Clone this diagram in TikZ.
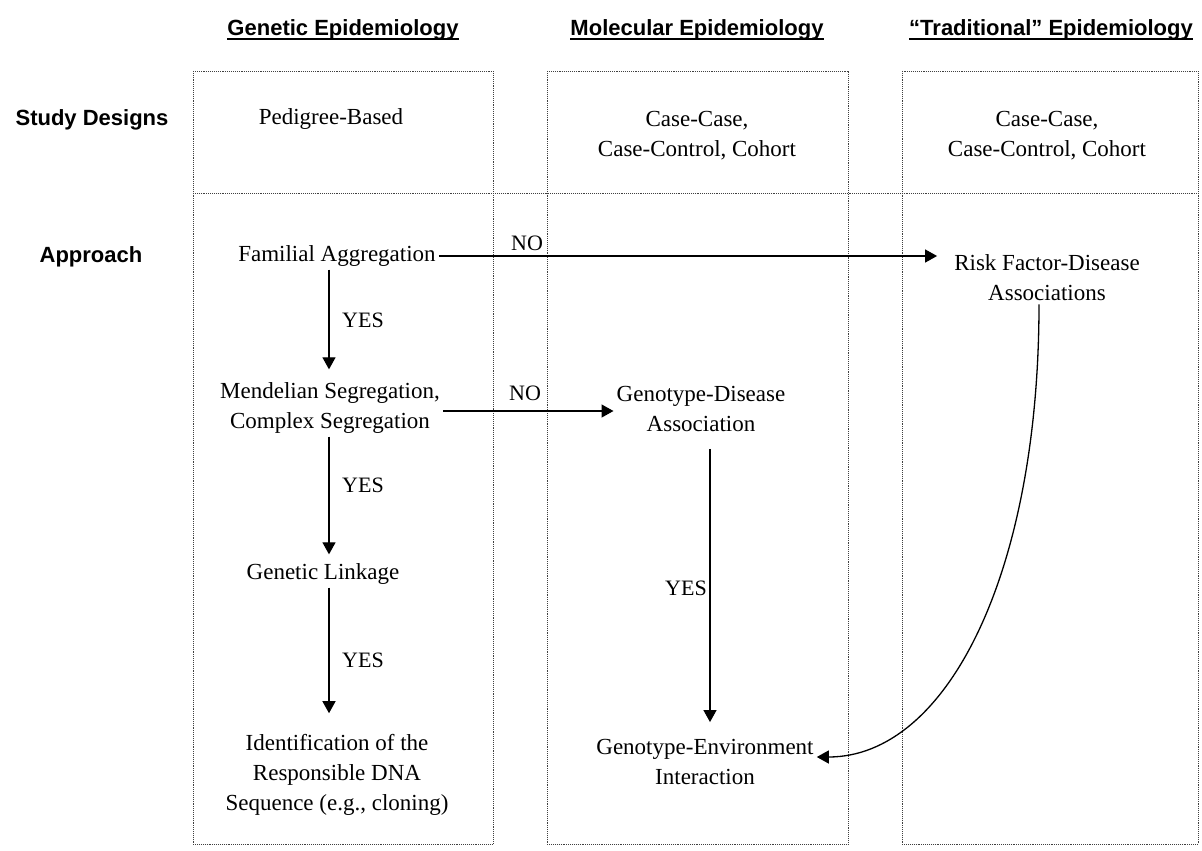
\documentclass[tikz,border=0pt]{standalone}
\usepackage{fontspec}
\setmainfont{Liberation Serif}
\setsansfont{Liberation Sans}
\usetikzlibrary{arrows.meta}

\begin{document}
\begin{tikzpicture}[x=1pt,y=-1pt]
		\tikzset{vertex/.style = {font=\fontsize{23}{30}\selectfont, align=center, inner sep=3pt}}
		\tikzset{head/.style = {font=\sffamily\bfseries\fontsize{22}{26}\selectfont, inner sep=0pt, text depth=0pt}}
		\tikzset{frame/.style = {densely dotted, line width=0.9pt, black!75}}
		\tikzset{edge/.style = {-{Triangle[length=12pt,width=13pt]}, line width=1.3pt}}
		\tikzset{tag/.style = {font=\fontsize{22}{26}\selectfont, inner sep=0pt}}

		\useasboundingbox (0,0) rectangle (1202,851);

		% frames
		\draw[frame] (193,71) rectangle (493,844);
		\draw[frame] (547,71) rectangle (848,844);
		\draw[frame] (902,71) rectangle (1198,844);
		\draw[frame] (193,193) -- (1198,193);

		% headings
		\node[head, anchor=base] (h1) at ( 343,  36) {Genetic Epidemiology};
		\node[head, anchor=base] (h2) at ( 697,  36) {Molecular Epidemiology};
		\node[head, anchor=base] (h3) at (1051,  36) {``Traditional'' Epidemiology};
		\foreach \h in {h1,h2,h3}
			\draw[line width=1.6pt] ([yshift=-3pt]\h.south west) -- ([yshift=-3pt]\h.south east);

		\node[head] (r1) at (  92, 118) {Study Designs};
		\node[head] (r2) at (  91, 255) {Approach};

		% study designs
		\node[vertex] (d1) at ( 331, 119) {Pedigree-Based};
		\node[vertex] (d2) at ( 697, 136) {Case-Case,\\Case-Control, Cohort};
		\node[vertex] (d3) at (1047, 136) {Case-Case,\\Case-Control, Cohort};

		% approach
		\coordinate (gx) at (329, 0);
		\coordinate (mx) at (710, 0);
		\node[vertex]  (1) at ( 337, 256) {Familial Aggregation};
		\node[vertex]  (2) at ( 330, 408) {Mendelian Segregation,\\Complex Segregation};
		\node[vertex]  (3) at ( 323, 574) {Genetic Linkage};
		\node[vertex]  (4) at ( 337, 775) {Identification of the\\Responsible DNA\\Sequence (e.g., cloning)};
		\node[vertex]  (5) at (1047, 278) {Risk Factor-Disease\\Associations};
		\node[vertex]  (6) at ( 701, 409) {Genotype-Disease\\Association};
		\node[vertex]  (7) at ( 705, 762) {Genotype-Environment\\Interaction};

		\draw[edge, shorten >=10pt] (1.south -| gx) to (2.north -| gx);
		\draw[edge, shorten >=6pt]  (2.south -| gx) to (3.north -| gx);
		\draw[edge, shorten >=18pt] (3.south -| gx) to (4.north -| gx);
		\draw[edge, shorten <=14pt, shorten >=14pt] (6.south -| mx) to (7.north -| mx);
		\draw[edge, shorten >=14pt] (1.east) to (1.east -| 5.west);
		\draw[edge] ([yshift=-3pt]2.east) to ([yshift=-3pt]2.east -| 6.west);
		\draw[edge] ([xshift=-8pt]5.south) .. controls +(0,270) and +(130,0) .. ([yshift=5pt]7.east);

		\node[tag] (y1) at ( 363, 320) {YES};
		\node[tag] (y2) at ( 363, 485) {YES};
		\node[tag] (y3) at ( 363, 660) {YES};
		\node[tag] (y4) at ( 686, 588) {YES};
		\node[tag] (n1) at ( 527, 243) {NO};
		\node[tag] (n2) at ( 525, 393) {NO};
		\end{tikzpicture}
\end{document}
